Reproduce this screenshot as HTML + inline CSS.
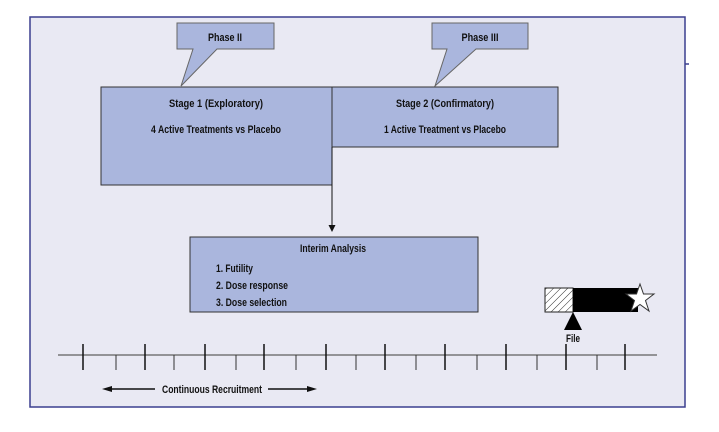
<!DOCTYPE html>
<html><head><meta charset="utf-8"><style>
html,body{margin:0;padding:0;background:#fff;}
svg{display:block;}
text{font-family:"Liberation Sans",sans-serif;font-size:11px;font-weight:bold;fill:#111;}
</style></head><body>
<svg width="719" height="432" viewBox="0 0 719 432" xmlns="http://www.w3.org/2000/svg">
<defs>
<pattern id="h" width="5" height="5" patternUnits="userSpaceOnUse" patternTransform="rotate(45)">
<rect width="5" height="5" fill="#fff"/><line x1="0" y1="0" x2="0" y2="5" stroke="#333" stroke-width="1"/>
</pattern>
</defs>
<rect x="30" y="17" width="655" height="390" fill="#e9e9f3" stroke="#3b3f8f" stroke-width="1.5"/>
<line x1="685" y1="64" x2="689" y2="64" stroke="#3b3f8f" stroke-width="1.5"/>
<path d="M177,23 H274 V49 H217 L181,86 L193,49 H177 Z" fill="#aab6dd" stroke="#666" stroke-width="1"/>
<text x="225" y="41" text-anchor="middle" textLength="34" lengthAdjust="spacingAndGlyphs">Phase II</text>
<path d="M432,23 H528 V49 H476 L435,86 L447,49 H432 Z" fill="#aab6dd" stroke="#666" stroke-width="1"/>
<text x="480" y="41" text-anchor="middle" textLength="37" lengthAdjust="spacingAndGlyphs">Phase III</text>
<rect x="101" y="87" width="231" height="98" fill="#aab6dd" stroke="#333" stroke-width="1"/>
<rect x="332" y="87" width="226" height="60" fill="#aab6dd" stroke="#333" stroke-width="1"/>
<text x="216" y="107" text-anchor="middle" textLength="94" lengthAdjust="spacingAndGlyphs">Stage 1 (Exploratory)</text>
<text x="216" y="133" text-anchor="middle" textLength="130" lengthAdjust="spacingAndGlyphs">4 Active Treatments vs Placebo</text>
<text x="445" y="107" text-anchor="middle" textLength="98" lengthAdjust="spacingAndGlyphs">Stage 2 (Confirmatory)</text>
<text x="445" y="133" text-anchor="middle" textLength="122" lengthAdjust="spacingAndGlyphs">1 Active Treatment vs Placebo</text>
<line x1="332" y1="147" x2="332" y2="226" stroke="#111" stroke-width="1"/>
<path d="M328.5,225 L335.5,225 L332,232 Z" fill="#111"/>
<rect x="190" y="237" width="288" height="75" fill="#aab6dd" stroke="#333" stroke-width="1"/>
<text x="333" y="252" text-anchor="middle" textLength="66" lengthAdjust="spacingAndGlyphs">Interim Analysis</text>
<text x="216" y="272" textLength="37" lengthAdjust="spacingAndGlyphs">1. Futility</text>
<text x="216" y="289" textLength="72" lengthAdjust="spacingAndGlyphs">2. Dose response</text>
<text x="216" y="306" textLength="71" lengthAdjust="spacingAndGlyphs">3. Dose selection</text>
<rect x="545" y="288" width="28" height="24" fill="url(#h)" stroke="#222" stroke-width="1"/>
<rect x="573" y="288" width="65" height="24" fill="#000"/>
<path d="M640,284 L643.5,294 L654,294 L645.5,300.5 L649,311 L640,304.5 L631,311 L634.5,300.5 L626,294 L636.5,294 Z" fill="#fff" stroke="#333" stroke-width="1"/>
<path d="M573,312 L582,330 L564,330 Z" fill="#000"/>
<text x="573" y="342" text-anchor="middle" textLength="14" lengthAdjust="spacingAndGlyphs">File</text>
<line x1="58" y1="355" x2="657" y2="355" stroke="#777" stroke-width="1.5"/>
<g stroke="#111" stroke-width="1.5">
<line x1="83" y1="344" x2="83" y2="370"/><line x1="145" y1="344" x2="145" y2="370"/>
<line x1="205" y1="344" x2="205" y2="370"/><line x1="264" y1="344" x2="264" y2="370"/>
<line x1="326" y1="344" x2="326" y2="370"/><line x1="385" y1="344" x2="385" y2="370"/>
<line x1="445" y1="344" x2="445" y2="370"/><line x1="506" y1="344" x2="506" y2="370"/>
<line x1="566" y1="344" x2="566" y2="370"/><line x1="625" y1="344" x2="625" y2="370"/>
</g>
<g stroke="#333" stroke-width="1">
<line x1="116" y1="355" x2="116" y2="370"/><line x1="174" y1="355" x2="174" y2="370"/>
<line x1="236" y1="355" x2="236" y2="370"/><line x1="296" y1="355" x2="296" y2="370"/>
<line x1="356" y1="355" x2="356" y2="370"/><line x1="416" y1="355" x2="416" y2="370"/>
<line x1="477" y1="355" x2="477" y2="370"/><line x1="537" y1="355" x2="537" y2="370"/>
<line x1="597" y1="355" x2="597" y2="370"/>
</g>
<line x1="108" y1="389" x2="155" y2="389" stroke="#111" stroke-width="1.5"/>
<path d="M102,389 L112,386 L112,392 Z" fill="#111"/>
<line x1="268" y1="389" x2="310" y2="389" stroke="#111" stroke-width="1.5"/>
<path d="M317,389 L307,386 L307,392 Z" fill="#111"/>
<text x="212" y="393" text-anchor="middle" textLength="100" lengthAdjust="spacingAndGlyphs">Continuous Recruitment</text>
</svg>
</body></html>
